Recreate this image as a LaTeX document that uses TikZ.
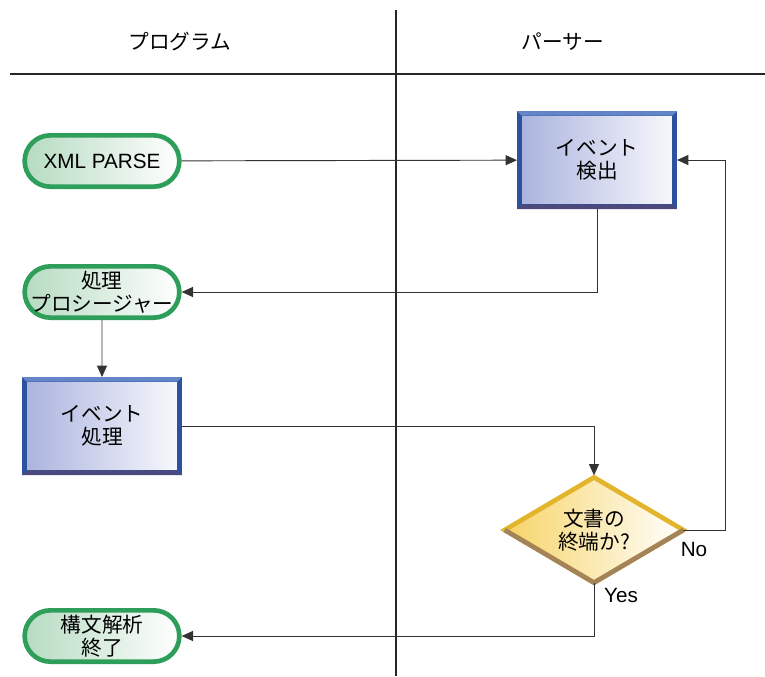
\documentclass[tikz,border=0pt]{standalone}
\usepackage{fontspec}
\setmainfont{Liberation Sans}
\newfontfamily\jpfont{Noto Sans CJK JP}
\usepackage{tikz}
\usetikzlibrary{shapes.misc, shapes.geometric, arrows.meta}

\definecolor{termgreen}{HTML}{2E9E5B}
\definecolor{termfill}{HTML}{B6DBC1}
\definecolor{boxblue}{HTML}{2B519F}
\definecolor{boxtop}{HTML}{6486C8}
\definecolor{boxbot}{HTML}{4C4A7C}
\definecolor{boxfill}{HTML}{AAB3DE}
\definecolor{decgold}{HTML}{E3B52C}
\definecolor{decbrown}{HTML}{A3835A}
\definecolor{decfill}{HTML}{F7D468}
\definecolor{wire}{HTML}{333333}

\tikzset{
    txt/.style={font=\jpfont\fontsize{15.5}{17}\selectfont, align=center},
    term/.style={txt, rounded rectangle, draw=termgreen, line width=3.5pt,
        left color=termfill, right color=white, minimum width=116pt,
        minimum height=38.5pt, inner sep=0pt},
    proc/.style={txt, rectangle, draw=boxblue, line width=3.5pt,
        left color=boxfill, right color=white!92!boxfill, minimum width=116.5pt,
        minimum height=70pt, inner sep=0pt},
    dec/.style={txt, diamond, draw=decgold, line width=3.5pt, outer sep=0pt,
        left color=decfill, right color=white, aspect=1.69, minimum width=134pt,
        minimum height=79pt, inner sep=0pt},
    flow/.style={draw=wire, line width=0.7pt, -{Triangle[length=8.5pt,width=7.5pt]}},
    lbl/.style={font=\fontsize{15.5}{17}\selectfont, inner sep=0pt},
}

\begin{document}
\begin{tikzpicture}[x=0.75pt, y=-0.75pt]
        \useasboundingbox (0,0) rectangle (765,676);

        % lanes
        \draw[line width=1.8pt, black!85] (396,10) -- (396,676);
        \draw[line width=1.8pt, black!85] (10,74) -- (765,74);
        \node[txt] at (180,42) (hprog) {プログラム};
        \node[txt] at (563,42) (hpars) {パーサー};

        % nodes
        \node[term] at (102,161) (start) {\rmfamily XML PARSE};
        \node[proc] at (597,160) (detect) {イベント\\検出};
        \node[term] at (102,292) (proc) {処理\\\makebox[70pt]{プロシージャー}};
        \node[proc] at (102,426) (handle) {イベント\\処理};
        \node[dec] at (594,530) (isend) {文書の\\終端か?};
        \node[term] at (102,636) (stop) {構文解析\\終了};

        % bevels
        \foreach \n in {detect, handle} {
            \fill[boxtop] (\n.north west) -- (\n.north east)
                -- ([shift={(-3.5pt,-3.5pt)}]\n.north east)
                -- ([shift={(3.5pt,-3.5pt)}]\n.north west) -- cycle;
            \fill[boxbot] (\n.south west) -- (\n.south east)
                -- ([shift={(-3.5pt,3.5pt)}]\n.south east)
                -- ([shift={(3.5pt,3.5pt)}]\n.south west) -- cycle;
        }
        \draw[decbrown, line width=3.5pt] (isend.west) -- (isend.south) -- (isend.east);

        % connectors
        \draw[flow] (start) -- (detect);
        \draw[flow] (detect.south) |- (proc.east);
        \draw[flow] (proc) -- (handle);
        \draw[flow, shorten >=1.5pt] (handle.east) -| (isend.north);
        \draw[flow] (isend.east) -- ++(42,0) |- (detect.east);
        \draw[flow] (isend.south) |- (stop.east);

        \node[lbl] at (694,549) (no) {No};
        \node[lbl] at (621,595) (yes) {Yes};
\end{tikzpicture}
\end{document}
